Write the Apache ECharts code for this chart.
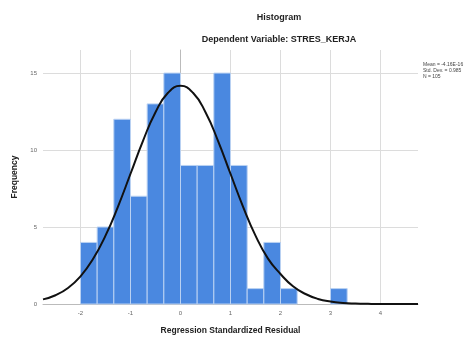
<!DOCTYPE html>
<html>
<head>
<meta charset="utf-8">
<script src="https://cdn.jsdelivr.net/npm/echarts@6/dist/echarts.min.js"></script>
<style>
  html, body { margin: 0; padding: 0; background: #fff; }
  #chart { width: 473px; height: 340px; }
</style>
</head>
<body>
<div id="chart"></div>
<script>
// histogram bins (left edge, width 1/3) and counts
const binStarts = [-2, -1.6667, -1.3333, -1, -0.6667, -0.3333, 0, 0.3333, 0.6667, 1, 1.3333, 1.6667, 2, 3];
const binWidth = 0.3333;
const counts = [4, 5, 12, 7, 13, 15, 9, 9, 15, 9, 1, 4, 1, 1];

// normal curve
const curveX = [-2.75, -2.5, -2.25, -2, -1.75, -1.5, -1.25, -1, -0.75, -0.5, -0.25, 0, 0.25, 0.5, 0.75, 1, 1.25, 1.5, 1.75, 2, 2.25, 2.5, 2.75, 3, 3.25, 3.5, 3.75, 4, 4.25, 4.5, 4.75];
const curveY = [0.3, 0.57, 1.04, 1.8, 2.92, 4.44, 6.33, 8.46, 10.6, 12.46, 13.72, 14.17, 13.72, 12.46, 10.6, 8.46, 6.33, 4.44, 2.95, 1.95, 1.15, 0.65, 0.33, 0.16, 0.07, 0.03, 0.01, 0, 0, 0, 0];

const statLines = ["Mean = -4.16E-16", "Std. Dev. = 0.985", "N = 105"];

const chart = echarts.init(document.getElementById("chart"), null, { renderer: "canvas" });
const font = "'Liberation Sans', Arial, sans-serif";

chart.setOption({
  backgroundColor: "#fff",
  animation: false,
  textStyle: { fontFamily: font },
  title: [
    { text: "Histogram", left: 279, top: 13, padding: 0, textAlign: "center",
      textStyle: { fontSize: 9, fontWeight: "bold", color: "#222", fontFamily: font } },
    { text: "Dependent Variable: STRES_KERJA", left: 279, top: 35, padding: 0, textAlign: "center",
      textStyle: { fontSize: 9, fontWeight: "bold", color: "#222", fontFamily: font } },
    { text: statLines.join("\n"), left: 423, top: 62, padding: 0,
      textStyle: { fontSize: 5, lineHeight: 6, fontWeight: "normal", color: "#444", fontFamily: font } }
  ],
  grid: { left: 43, right: 55, top: 50, bottom: 33 },
  xAxis: {
    type: "value",
    min: -2.75,
    max: 4.75,
    splitNumber: 7,
    name: "Regression Standardized Residual",
    nameLocation: "middle",
    nameGap: 22,
    nameTextStyle: { fontSize: 8.5, fontWeight: "bold", color: "#222" },
    axisLine: { show: true, lineStyle: { color: "#bbb", width: 1 } },
    axisTick: { show: false },
    axisLabel: { color: "#666", fontSize: 6, margin: 6, showMinLabel: false, showMaxLabel: false },
    splitLine: { show: true, showMinLine: false, showMaxLine: false, lineStyle: { color: "#dcdcdc", width: 1 } }
  },
  yAxis: {
    type: "value",
    min: 0,
    max: 16.5,
    interval: 5,
    name: "Frequency",
    nameLocation: "middle",
    nameGap: 23,
    nameTextStyle: { fontSize: 8.5, fontWeight: "bold", color: "#222" },
    axisLine: { show: true, lineStyle: { color: "#bbb", width: 1 } },
    axisTick: { show: false },
    axisLabel: { color: "#666", fontSize: 6, margin: 6, showMaxLabel: false },
    splitLine: { show: true, showMaxLine: false, lineStyle: { color: "#dcdcdc", width: 1 } }
  },
  series: [
    {
      type: "custom",
      data: binStarts.map((s, i) => [s, s + binWidth, counts[i]]),
      encode: { x: [0, 1], y: 2 },
      renderItem: (params, api) => {
        const p0 = api.coord([api.value(0), 0]);
        const p1 = api.coord([api.value(1), api.value(2)]);
        return {
          type: "rect",
          shape: { x: p0[0], y: p1[1], width: p1[0] - p0[0], height: p0[1] - p1[1] },
          style: { fill: "#4a88e0", stroke: "#b9d1f2", lineWidth: 1 }
        };
      },
      z: 2
    },
    {
      type: "line",
      data: curveX.map((x, i) => [x, curveY[i]]),
      smooth: true,
      showSymbol: false,
      lineStyle: { color: "#111", width: 2 },
      z: 3
    }
  ]
});
</script>
</body>
</html>
